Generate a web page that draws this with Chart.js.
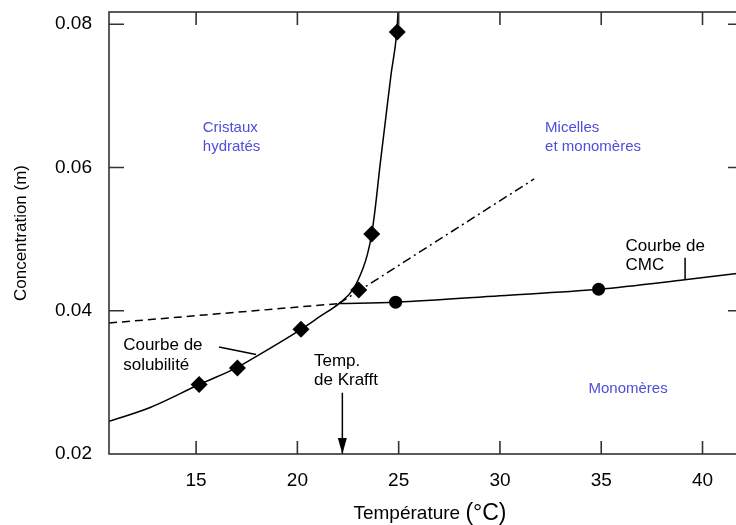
<!DOCTYPE html>
<html>
<head>
<meta charset="utf-8">
<script src="https://cdn.jsdelivr.net/npm/chart.js@4.4.1/dist/chart.umd.min.js"></script>
<style>
  html, body { margin: 0; padding: 0; background: #fff; }
  #wrap { width: 736px; height: 525px; overflow: hidden; }
  canvas { display: block; }
</style>
</head>
<body>
<div id="wrap"><canvas id="chart" width="756" height="525"></canvas></div>
<script>
// ===== Température de Krafft — courbe de solubilité + CMC =====

const X_TICKS = [15, 20, 25, 30, 35, 40];
const Y_TICKS = [0.02, 0.04, 0.06, 0.08];

// points mesurés
const DIAMOND_T = [15.15, 17.04, 20.18, 23.03, 23.67, 24.93];
const DIAMOND_C = [0.0297, 0.0320, 0.0374, 0.0429, 0.0507, 0.0789];
const CIRCLE_T  = [24.85, 34.87];
const CIRCLE_C  = [0.0412, 0.0430];

// courbe de solubilité (tracé)
const SOL_T = [10.7, 12.73, 15.15, 17.04, 17.96, 20.18, 21.12, 22.05, 22.73, 23.25, 23.46, 23.67, 23.83, 24.08, 24.35, 24.62, 24.9, 24.97];
const SOL_C = [0.02455, 0.0265, 0.0297, 0.0321, 0.0336, 0.0374, 0.0392, 0.0410, 0.0429, 0.0460, 0.0479, 0.0507, 0.0540, 0.0603, 0.0666, 0.0729, 0.0787, 0.0817];

// courbe de CMC
const CMC_T = [22.05, 24.85, 30, 34.87, 39.12, 41.9];
const CMC_C = [0.0410, 0.0412, 0.0421, 0.0430, 0.04432, 0.04526];

// prolongements
const DASH_T    = [10.7, 22.05];
const DASH_C    = [0.03828, 0.0410];
const DASHDOT_T = [22.05, 31.69];
const DASHDOT_C = [0.0410, 0.0584];

// traits de repère + flèche
const SOL_PTR_T = [16.13, 17.96];
const SOL_PTR_C = [0.03493, 0.0339];
const CMC_PTR_T = [39.14, 39.14];
const CMC_PTR_C = [0.0474, 0.0444];
const ARROW_T   = [22.22, 22.22];
const ARROW_C   = [0.02855, 0.0200];

const toXY = (xs, ys) => xs.map((x, i) => ({ x, y: ys[i] }));

const FONT = "'Liberation Sans', Arial, Helvetica, sans-serif";
const BLUE = '#4d4dd9';

// textes : [lignes, T, C, couleur, taille, interligne]
const LABELS = [
  [['Cristaux', 'hydratés'],        15.33, 0.06553, BLUE,   15, 19],
  [['Micelles', 'et monomères'],    32.23, 0.06553, BLUE,   15, 19],
  [['Monomères'],                   34.37, 0.02907, BLUE,   15, 19],
  [['Courbe de', 'CMC'],            36.2,  0.04897, '#000', 17, 19],
  [['Courbe de', 'solubilité'],     11.4,  0.03511, '#000', 17, 20],
  [['Temp.', 'de Krafft'],          20.82, 0.03288, '#000', 17, 19],
];

const line = (data, extra = {}) => ({
  data, showLine: true, borderColor: '#000', borderWidth: 1.5,
  pointRadius: 0, fill: false, ...extra,
});

const noOverhang = s => { s.paddingTop = 0; s.paddingBottom = 0; s.paddingLeft = 0; s.paddingRight = 0; };

const decorPlugin = {
  id: 'decor',
  afterDatasetsDraw(chart) {
    const { ctx, chartArea: a, scales: { x, y } } = chart;
    ctx.save();

    // cadre + graduations intérieures
    ctx.strokeStyle = '#333';
    ctx.lineWidth = 1.6;
    ctx.strokeRect(a.left, a.top, a.right - a.left, a.bottom - a.top);
    ctx.beginPath();
    X_TICKS.forEach(v => {
      const px = x.getPixelForValue(v);
      ctx.moveTo(px, a.bottom); ctx.lineTo(px, a.bottom - 13);
      ctx.moveTo(px, a.top);    ctx.lineTo(px, a.top + 13);
    });
    Y_TICKS.slice(1).forEach(v => {
      const py = y.getPixelForValue(v);
      ctx.moveTo(a.left, py);  ctx.lineTo(a.left + 15, py);
      ctx.moveTo(a.right, py); ctx.lineTo(a.right - 13, py);
    });
    ctx.stroke();

    // pointe de flèche (Temp. de Krafft)
    const tip = chart.getDatasetMeta(chart.data.datasets.length - 1).data[1];
    ctx.fillStyle = '#000';
    ctx.beginPath();
    ctx.moveTo(tip.x, tip.y);
    ctx.lineTo(tip.x - 4.5, tip.y - 16);
    ctx.lineTo(tip.x + 4.5, tip.y - 16);
    ctx.closePath();
    ctx.fill();

    // textes
    ctx.textAlign = 'left';
    ctx.textBaseline = 'middle';
    LABELS.forEach(([lines, t, c, color, size, lh]) => {
      ctx.fillStyle = color;
      ctx.font = `${size}px ${FONT}`;
      const px = x.getPixelForValue(t), py = y.getPixelForValue(c);
      lines.forEach((s, i) => ctx.fillText(s, px, py + i * lh));
    });

    // titres d'axes
    ctx.fillStyle = '#000';
    ctx.textBaseline = 'alphabetic';
    ctx.font = `19px ${FONT}`;
    const w1 = ctx.measureText('Température ').width;
    ctx.font = `23px ${FONT}`;
    const w2 = ctx.measureText('(°C)').width;
    const x0 = 430 - (w1 + w2) / 2;
    ctx.font = `19px ${FONT}`;
    ctx.fillText('Température ', x0, 519);
    ctx.font = `23px ${FONT}`;
    ctx.fillText('(°C)', x0 + w1, 520);

    ctx.translate(21, 233);
    ctx.rotate(-Math.PI / 2);
    ctx.textAlign = 'center';
    ctx.textBaseline = 'middle';
    ctx.font = `17px ${FONT}`;
    ctx.fillText('Concentration (m)', 0, 0);
    ctx.restore();
  },
};

new Chart(document.getElementById('chart'), {
  type: 'scatter',
  data: {
    datasets: [
      { data: toXY(DIAMOND_T, DIAMOND_C), pointStyle: 'rectRot', pointRadius: 8.5,
        backgroundColor: '#000', borderColor: '#000', borderWidth: 0 },
      { data: toXY(CIRCLE_T, CIRCLE_C), pointStyle: 'circle', pointRadius: 6.5,
        backgroundColor: '#000', borderColor: '#000', borderWidth: 0 },
      line(toXY(SOL_T, SOL_C), { cubicInterpolationMode: 'monotone' }),
      line(toXY(CMC_T, CMC_C), { cubicInterpolationMode: 'monotone' }),
      line(toXY(DASH_T, DASH_C), { borderDash: [8, 5] }),
      line(toXY(DASHDOT_T, DASHDOT_C), { borderDash: [9, 4, 2, 4] }),
      line(toXY(SOL_PTR_T, SOL_PTR_C)),
      line(toXY(CMC_PTR_T, CMC_PTR_C)),
      line(toXY(ARROW_T, ARROW_C)),
    ],
  },
  options: {
    responsive: false,
    animation: false,
    devicePixelRatio: 1,
    layout: { padding: { top: 12, right: 15, left: 0, bottom: 0 } },
    plugins: { legend: { display: false }, tooltip: { enabled: false } },
    scales: {
      x: {
        type: 'linear', min: 10.7, max: 41.9,
        grid: { display: false, drawTicks: false },
        border: { display: false },
        afterBuildTicks: s => { s.ticks = X_TICKS.map(value => ({ value })); },
        afterFit: s => { s.height = 71; noOverhang(s); },
        ticks: { padding: 15, color: '#000', font: { family: FONT, size: 19 } },
      },
      y: {
        type: 'linear', min: 0.02, max: 0.0817,
        grid: { display: false, drawTicks: false },
        border: { display: false },
        afterBuildTicks: s => { s.ticks = Y_TICKS.map(value => ({ value })); },
        afterFit: s => { s.width = 109; noOverhang(s); },
        ticks: { padding: 17, color: '#000', font: { family: FONT, size: 19 },
                 callback: v => v.toFixed(2) },
      },
    },
  },
  plugins: [decorPlugin],
});
</script>
</body>
</html>
